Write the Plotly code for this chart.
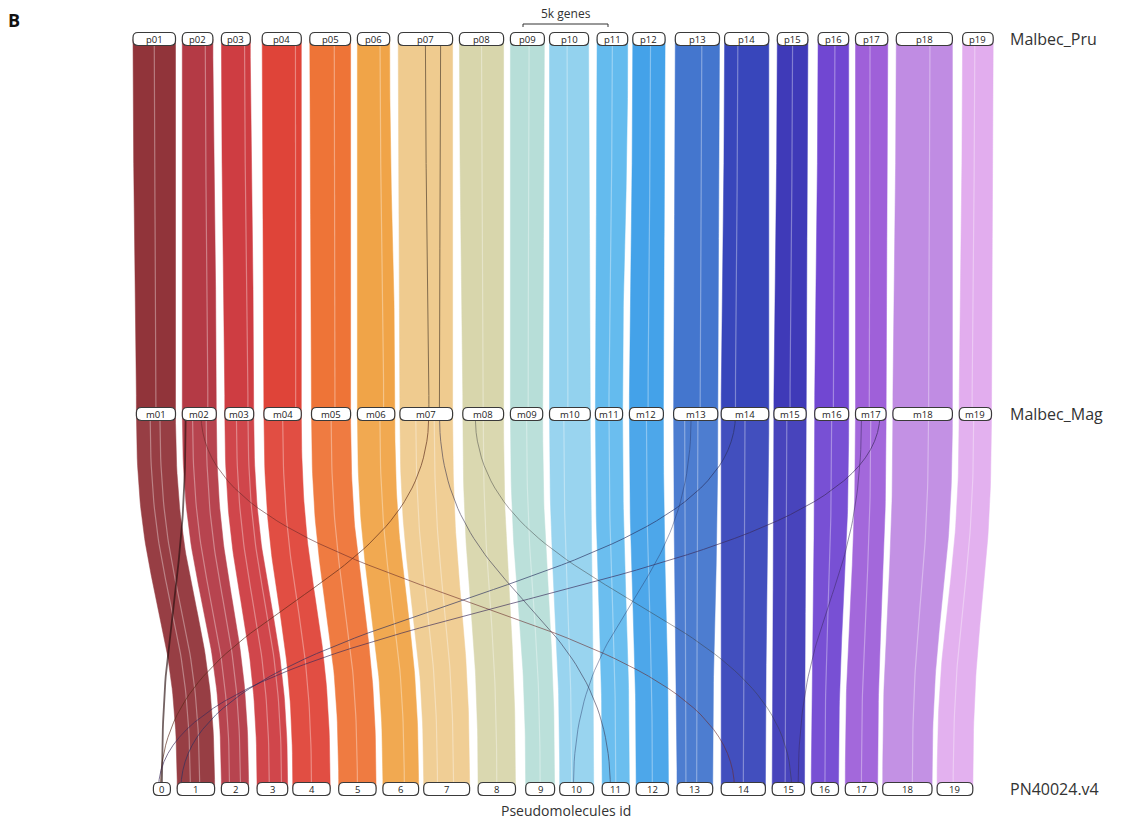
import numpy as np
import plotly.graph_objects as go

# ---------------- data ----------------
track_names = ["Malbec_Pru", "Malbec_Mag", "PN40024.v4"]
track_y = [0.0, 1.0, 2.0]

# chromosome extents along each track, in thousands of genes
pru_labels = ["p01", "p02", "p03", "p04", "p05", "p06", "p07", "p08", "p09", "p10",
              "p11", "p12", "p13", "p14", "p15", "p16", "p17", "p18", "p19"]
pru_start = [0.0, 2.9, 5.2, 7.6, 10.4, 13.2, 15.6, 19.2, 22.2, 24.5,
             27.3, 29.4, 31.9, 34.8, 37.9, 40.3, 42.5, 44.9, 48.8]
pru_end = [2.5, 4.7, 6.9, 9.9, 12.8, 15.1, 18.8, 21.8, 24.2, 26.8,
           29.1, 31.3, 34.5, 37.4, 39.7, 42.1, 44.4, 48.2, 50.6]

mag_labels = ["m01", "m02", "m03", "m04", "m05", "m06", "m07", "m08", "m09", "m10",
              "m11", "m12", "m13", "m14", "m15", "m16", "m17", "m18", "m19"]
mag_start = [0.2, 2.9, 5.4, 7.7, 10.5, 13.2, 15.7, 19.4, 22.2, 24.5,
             27.2, 29.2, 31.8, 34.6, 37.7, 40.1, 42.5, 44.7, 48.6]
mag_end = [2.5, 4.9, 7.1, 9.9, 12.8, 15.4, 18.8, 21.8, 24.1, 26.9,
           28.8, 31.2, 34.4, 37.4, 39.6, 42.1, 44.3, 48.2, 50.5]

pn_labels = ["0", "1", "2", "3", "4", "5", "6", "7", "8", "9", "10",
             "11", "12", "13", "14", "15", "16", "17", "18", "19"]
pn_start = [1.2, 2.6, 5.2, 7.3, 9.4, 12.1, 14.7, 17.1, 20.3, 23.1, 25.1,
            27.6, 29.6, 32.0, 34.6, 37.6, 39.9, 41.9, 44.1, 47.3]
pn_end = [2.2, 4.8, 6.8, 9.1, 11.6, 14.3, 16.8, 19.8, 22.5, 24.8, 27.1,
          29.2, 31.5, 34.1, 37.2, 39.5, 41.5, 43.8, 47.0, 49.4]

chrom_colors = ["#8c2a30", "#b0303c", "#cc3338", "#de3b2f", "#ee6d2d", "#f0a03f",
                "#efc98a", "#d6d4a8", "#b4ddd6", "#8ed0ee", "#5cb8ee", "#3a9ee8",
                "#3a6fcc", "#2e3db8", "#3530b5", "#6a3ed0", "#9a58d8", "#bd86e2",
                "#e1a9ee"]

# internal synteny block breakpoints (fraction across each chromosome)
pru_mag_breaks = [[0.5], [0.75], [0.8], [0.85], [0.6], [0.7], [], [0.5], [0.55], [0.45],
                  [0.5], [0.55], [0.6], [0.3], [0.5], [0.55], [0.45], [0.6], [0.4]]
mag_pn_breaks = [[0.35, 0.6], [0.3, 0.7], [0.4, 0.8], [0.5], [0.5], [0.6], [0.3, 0.65],
                 [0.5], [0.5], [0.35], [0.5], [0.5], [0.25, 0.55], [0.5], [0.4], [0.5],
                 [0.5], [0.6], [0.45]]

# rearranged gene links: (from track, chrom index, frac, to track, chrom index, frac)
links = [
    (0, 6, 0.50, 1, 6, 0.55),
    (0, 6, 0.78, 1, 6, 0.75),
    (1, 6, 0.55, 2, 0, 0.40),
    (1, 6, 0.75, 2, 11, 0.30),
    (1, 1, 0.55, 2, 14, 0.30),
    (1, 1, 0.10, 2, 0, 0.50),
    (1, 16, 0.80, 2, 0, 0.30),
    (1, 13, 0.30, 2, 1, 0.10),
    (1, 7, 0.30, 2, 15, 0.60),
    (1, 16, 0.20, 2, 15, 0.80),
    (1, 12, 0.40, 2, 10, 0.40),
]
link_colors = ["#4a3a2a", "#4a3a2a", "#5a2a1a", "#3a3550", "#6a2a2a", "#2a1010",
               "#3a2a5a", "#2a3060", "#3a3a3a", "#3a2a60", "#2a3a6a"]
link_widths = [1.0, 1.0, 1.0, 0.9, 0.9, 1.8, 1.0, 1.0, 0.7, 0.8, 0.7]

scale_genes = 5.0  # thousand genes shown by scale bar

# ---------------- helpers ----------------
def bezier(x0, y0, x1, y1, n=60):
    t = np.linspace(0, 1, n)
    ym = (y0 + y1) / 2
    b0, b1, b2, b3 = (1 - t) ** 3, 3 * (1 - t) ** 2 * t, 3 * (1 - t) * t ** 2, t ** 3
    x = b0 * x0 + b1 * x0 + b2 * x1 + b3 * x1
    y = b0 * y0 + b1 * ym + b2 * ym + b3 * y1
    return x, y

starts = [pru_start, mag_start, pn_start]
ends = [pru_end, mag_end, pn_end]
labels = [pru_labels, mag_labels, pn_labels]

def pos(track, idx, frac):
    s, e = starts[track][idx], ends[track][idx]
    return s + (e - s) * frac

fig = go.Figure()

def ribbon(s0, e0, y0, s1, e1, y1, color, opacity):
    xl, yl = bezier(s0, y0, s1, y1)
    xr, yr = bezier(e1, y1, e0, y0)
    fig.add_trace(go.Scatter(x=np.concatenate([xl, xr, xl[:1]]),
                             y=np.concatenate([yl, yr, yl[:1]]),
                             mode="lines", fill="toself", fillcolor=color,
                             line=dict(width=0.5, color=color), opacity=opacity,
                             hoverinfo="skip", showlegend=False))

# Pru -> Mag ribbons
for i in range(19):
    ribbon(pru_start[i], pru_end[i], track_y[0], mag_start[i], mag_end[i], track_y[1],
           chrom_colors[i], 0.95)
# Mag -> PN ribbons (PN chromosome i+1)
for i in range(19):
    ribbon(mag_start[i], mag_end[i], track_y[1], pn_start[i + 1], pn_end[i + 1], track_y[2],
           chrom_colors[i], 0.9)

# block breakpoints as light streaks
for i in range(19):
    for f in pru_mag_breaks[i]:
        x, y = bezier(pos(0, i, f), track_y[0], pos(1, i, f), track_y[1])
        fig.add_trace(go.Scatter(x=x, y=y, mode="lines",
                                 line=dict(color="rgba(255,255,255,0.35)", width=1.2),
                                 hoverinfo="skip", showlegend=False))
    for f in mag_pn_breaks[i]:
        x, y = bezier(pos(1, i, f), track_y[1], pos(2, i + 1, f), track_y[2])
        fig.add_trace(go.Scatter(x=x, y=y, mode="lines",
                                 line=dict(color="rgba(255,255,255,0.35)", width=1.2),
                                 hoverinfo="skip", showlegend=False))

# rearrangement links
for (ta, ia, fa, tb, ib, fb), c, w in zip(links, link_colors, link_widths):
    x, y = bezier(pos(ta, ia, fa), track_y[ta], pos(tb, ib, fb), track_y[tb])
    fig.add_trace(go.Scatter(x=x, y=y, mode="lines",
                             line=dict(color=c, width=w), opacity=0.65,
                             hoverinfo="skip", showlegend=False))

# ---------------- layout geometry ----------------
W, H = 1128, 823
px_per_kg = 17.0
x0_px = 133.0
xr = [-x0_px / px_per_kg, (W - x0_px) / px_per_kg]
y0_px, px_per_track = 39.0, 375.0
yr = [(H - y0_px) / px_per_track, -y0_px / px_per_track]

rx = 5.0 / px_per_kg
ry = 5.0 / px_per_track
hh = 6.5 / px_per_track

shapes = []
annotations = []
font_family = "Open Sans, Noto Sans, Liberation Sans, sans-serif"

def rounded_box(xa, xb, yc):
    ya, yb = yc - hh, yc + hh
    r_x = min(rx, (xb - xa) / 2)
    p = (f"M {xa + r_x},{ya} L {xb - r_x},{ya} Q {xb},{ya} {xb},{ya + ry} "
         f"L {xb},{yb - ry} Q {xb},{yb} {xb - r_x},{yb} L {xa + r_x},{yb} "
         f"Q {xa},{yb} {xa},{yb - ry} L {xa},{ya + ry} Q {xa},{ya} {xa + r_x},{ya} Z")
    return dict(type="path", path=p, xref="x", yref="y", layer="above",
                fillcolor="white", line=dict(color="#3a3a3a", width=1.2))

for t in range(3):
    for s, e, lab in zip(starts[t], ends[t], labels[t]):
        shapes.append(rounded_box(s, e, track_y[t]))
        annotations.append(dict(x=(s + e) / 2, y=track_y[t], xref="x", yref="y",
                                text=lab, showarrow=False,
                                font=dict(size=9.5, color="#222", family=font_family)))
    annotations.append(dict(x=(1008 - x0_px) / px_per_kg, y=track_y[t], xref="x", yref="y",
                            text=track_names[t], showarrow=False, xanchor="left",
                            font=dict(size=16, color="#333", family=font_family)))

# scale bar
sb_x0 = (523 - x0_px) / px_per_kg
sb_y = (24 - y0_px) / px_per_track
shapes.append(dict(type="line", x0=sb_x0, x1=sb_x0 + scale_genes, y0=sb_y, y1=sb_y,
                   xref="x", yref="y", line=dict(color="#333", width=1)))
for xx in [sb_x0, sb_x0 + scale_genes]:
    shapes.append(dict(type="line", x0=xx, x1=xx, y0=sb_y, y1=sb_y + 3 / px_per_track,
                       xref="x", yref="y", line=dict(color="#333", width=1)))
annotations.append(dict(x=sb_x0 + scale_genes / 2, y=sb_y, xref="x", yref="y",
                        text="5k genes", showarrow=False, yanchor="bottom",
                        font=dict(size=12, color="#333", family=font_family)))

annotations.append(dict(x=sb_x0 + scale_genes / 2, y=(810 - y0_px) / px_per_track,
                        xref="x", yref="y", text="Pseudomolecules id", showarrow=False,
                        font=dict(size=14, color="#333", family=font_family)))
annotations.append(dict(x=14 / W, y=1 - 20 / H, xref="paper", yref="paper", text="<b>B</b>",
                        xanchor="center", yanchor="middle",
                        showarrow=False, font=dict(size=18, color="#111", family=font_family)))

fig.update_layout(
    width=W, height=H, margin=dict(l=0, r=0, t=0, b=0),
    paper_bgcolor="white", plot_bgcolor="white",
    xaxis=dict(range=xr, visible=False, fixedrange=True),
    yaxis=dict(range=yr, visible=False, fixedrange=True),
    shapes=shapes, annotations=annotations, showlegend=False,
)

fig.write_html("out.html", config={"displayModeBar": False},
               post_script="document.body.style.margin='0';document.body.style.padding='0';"
                           "document.body.style.overflow='hidden';")
